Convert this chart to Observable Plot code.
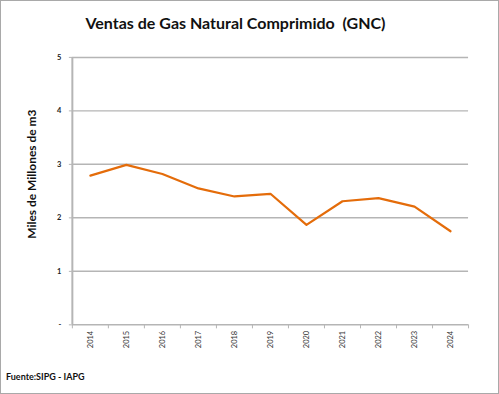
<!DOCTYPE html>
<html>
<head>
<meta charset="utf-8">
<script src="https://cdn.jsdelivr.net/npm/d3@7"></script>
<script src="https://cdn.jsdelivr.net/npm/@observablehq/plot@0.6"></script>
<style>
  html, body { margin: 0; padding: 0; background: #fff; }
  #wrap { position: relative; width: 499px; height: 394px; box-sizing: border-box; border: 1px solid #a9a9a9; overflow: hidden; font-family: Lato, "Open Sans", sans-serif; }
  #chart { position: absolute; left: -1px; top: -1px; }
  #title { position: absolute; left: 0; width: 469px; top: 12px; text-align: center; font-weight: bold; font-size: 16px; color: #111; white-space: pre; }
  #source { position: absolute; left: 5px; top: 370px; font-weight: bold; font-size: 9px; color: #111; }
</style>
</head>
<body>
<div id="wrap">
  <div id="chart"></div>
  <div id="title">Ventas de Gas Natural Comprimido  (GNC)</div>
  <div id="source">Fuente:SIPG - IAPG</div>
</div>
<script>
const years = [2014, 2015, 2016, 2017, 2018, 2019, 2020, 2021, 2022, 2023, 2024];
const values = [2.79, 2.99, 2.82, 2.55, 2.40, 2.45, 1.87, 2.31, 2.37, 2.21, 1.75];
const yTicks = [0, 1, 2, 3, 4, 5];
const yLabel = "Miles de Millones de m3";

const data = years.map((year, i) => ({year, value: values[i]}));
const bounds = years.map(y => y - 0.5).concat([years[years.length - 1] + 0.5]);
const gridTicks = yTicks.filter(t => t > 0);

const chart = Plot.plot({
  width: 499,
  height: 394,
  marginLeft: 72,
  marginRight: 30,
  marginTop: 57,
  marginBottom: 69,
  style: {fontFamily: "Lato, 'Open Sans', sans-serif", background: "transparent"},
  x: {type: "linear", domain: [bounds[0], bounds[bounds.length - 1]], axis: null},
  y: {type: "linear", domain: [0, 5], axis: null},
  marks: [
    Plot.ruleY(gridTicks, {stroke: "#b5b5b5", strokeWidth: 1.5}),
    Plot.ruleY([0], {stroke: "#b5b5b5", strokeWidth: 1.5}),
    Plot.axisX({ticks: bounds, tickSize: 4, tickFormat: () => "", stroke: "#b5b5b5", label: null}),
    Plot.axisY({ticks: yTicks, tickSize: 3, tickPadding: 8, tickFormat: d => d === 0 ? "-" : String(d), fontSize: 7.5, fontWeight: "bold", stroke: "#b5b5b5", fill: "#222", label: null}),
    Plot.ruleX([bounds[0]], {stroke: "#b5b5b5", strokeWidth: 2}),
    Plot.line(data, {x: "year", y: "value", stroke: "#e46c0a", strokeWidth: 2.2}),
    Plot.text(years, {x: d => d, y: yTicks[0], text: d => String(d), rotate: -90, textAnchor: "end", dy: 6, fontSize: 7.5, fill: "#333"}),
    Plot.text([yLabel], {frameAnchor: "left", textAnchor: "middle", text: d => d, rotate: -90, dx: -40, dy: -17, fontSize: 12, fontWeight: "bold", fill: "#111"})
  ]
});
document.getElementById("chart").appendChild(chart);
</script>
</body>
</html>
